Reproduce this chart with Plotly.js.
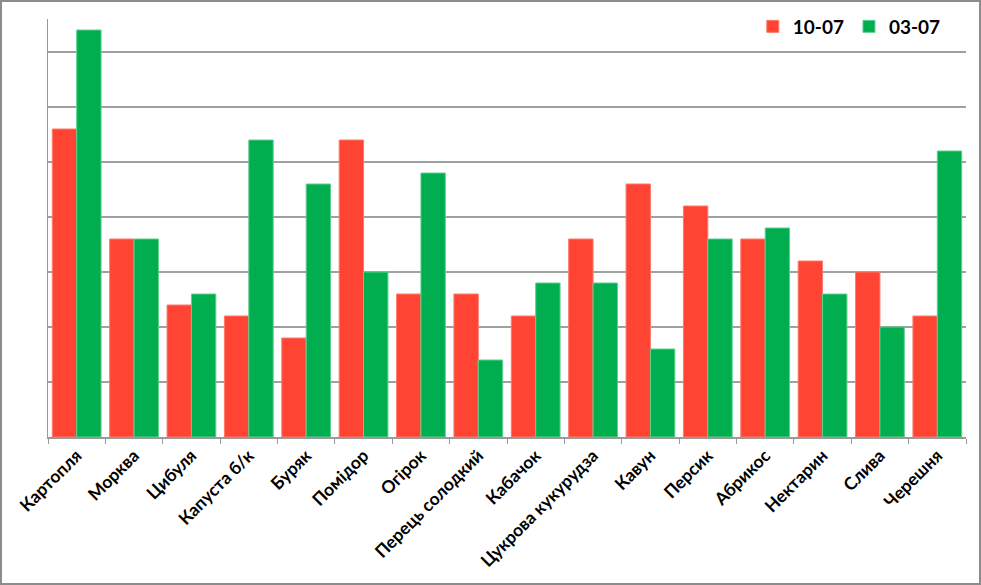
<!DOCTYPE html>
<html>
<head>
<meta charset="utf-8">
<script src="https://cdn.plot.ly/plotly-3.0.1.min.js"></script>
<style>
  html, body { margin: 0; padding: 0; background: #fff; }
  #chart { width: 977px; height: 581px; border: 2px solid #8c8c8c; }
</style>
</head>
<body>
<div id="chart"></div>
<script>
// categories and values (one unit = one gridline)
var categories = ["Картопля", "Морква", "Цибуля", "Капуста б/к", "Буряк", "Помідор", "Огірок",
  "Перець солодкий", "Кабачок", "Цукрова кукурудза", "Кавун", "Персик", "Абрикос",
  "Нектарин", "Слива", "Черешня"]
var series_10_07 = [5.6, 3.6, 2.4, 2.2, 1.8, 5.4, 2.6, 2.6, 2.2, 3.6, 4.6, 4.2, 3.6, 3.2, 3.0, 2.2]
var series_03_07 = [7.4, 3.6, 2.6, 5.4, 4.6, 3.0, 4.8, 1.4, 2.8, 2.8, 1.6, 3.6, 3.8, 2.6, 2.0, 5.2]

var traces = [
  {
    x: categories,
    y: series_10_07,
    name: "10-07",
    type: "bar",
    marker: {color: "#ff4433", line: {color: "#ff7a6c", width: 1}}
  },
  {
    x: categories,
    y: series_03_07,
    name: "03-07",
    type: "bar",
    marker: {color: "#00ad4f", line: {color: "#5fd08e", width: 1}}
  }
]

var layout = {
  width: 977,
  height: 581,
  margin: {l: 46, r: 13, t: 17, b: 146, autoexpand: false},
  paper_bgcolor: "#ffffff",
  plot_bgcolor: "#ffffff",
  barmode: "group",
  bargap: 0.15,
  bargroupgap: 0,
  font: {family: "Lato, 'Open Sans', sans-serif", color: "#000"},
  showlegend: true,
  legend: {
    orientation: "h",
    x: 0.978, xanchor: "right",
    y: 0.982, yanchor: "middle",
    font: {size: 19, weight: "bold", color: "#000"},
    itemwidth: 30,
    bgcolor: "rgba(0,0,0,0)"
  },
  xaxis: {
    automargin: false,
    tickangle: -45,
    tickfont: {size: 17.5, weight: "bold", color: "#000"},
    showline: true,
    linecolor: "#9a9a9a",
    linewidth: 1.5,
    ticks: "outside",
    ticklen: 5,
    tickcolor: "#9a9a9a",
    tickson: "boundaries",
    showgrid: false,
    fixedrange: true
  },
  yaxis: {
    automargin: false,
    range: [0, 7.6],
    dtick: 1,
    showticklabels: false,
    showgrid: true,
    gridcolor: "#a0a0a0",
    gridwidth: 1.5,
    showline: true,
    linecolor: "#9a9a9a",
    linewidth: 1.5,
    zeroline: false,
    fixedrange: true
  }
}

Plotly.newPlot("chart", traces, layout, {displayModeBar: false, staticPlot: true})
</script>
</body>
</html>
